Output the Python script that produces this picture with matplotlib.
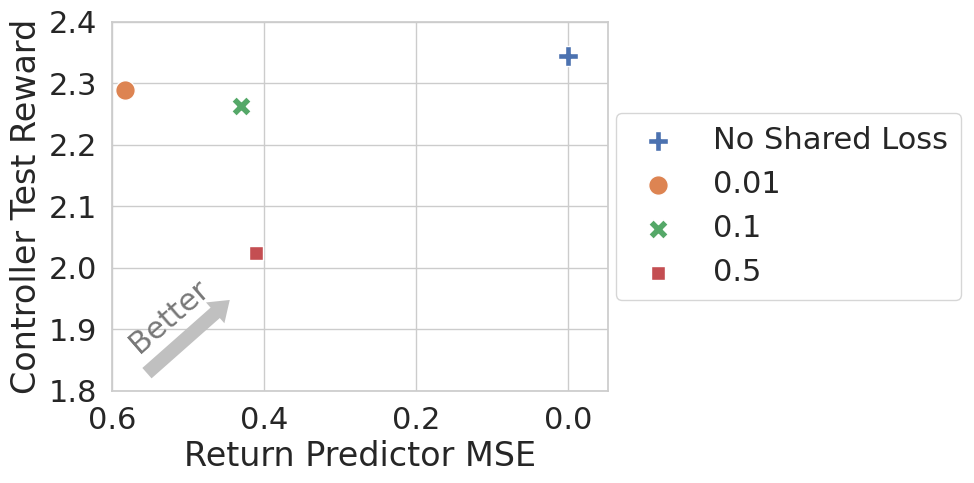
import matplotlib
matplotlib.use("Agg")
import matplotlib.pyplot as plt
import seaborn as sns

sns.set_theme(style="whitegrid", font_scale=2)
plt.rcParams['font.family'] = ['DejaVu Sans']

labels = ["No Shared Loss", "0.01", "0.1", "0.5"]
mse = [0.0, 0.583, 0.430, 0.411]
reward = [2.345, 2.289, 2.263, 2.025]
colors = ["#4C72B0", "#DD8452", "#55A868", "#C44E52"]
markers = ["P", "o", "X", (4, 0, 45)]

xticks = [0.6, 0.4, 0.2, 0.0]
yticks = [1.8, 1.9, 2.0, 2.1, 2.2, 2.3, 2.4]

fig = plt.figure(figsize=(9.74, 4.83), dpi=100)
ax = fig.add_axes([0.115, 0.1905, 0.509, 0.764])

for lab, x, y, c, m in zip(labels, mse, reward, colors, markers):
    ax.scatter([x], [y], s=200, c=c, marker=m, edgecolor="white", linewidth=1, label=lab, zorder=3)

ax.set_xlim(0.6, -0.0526)
ax.set_ylim(1.8, 2.4)
ax.set_xticks(xticks)
ax.set_xticklabels([f"{t:.1f}" for t in xticks])
ax.set_yticks(yticks)
ax.set_yticklabels([f"{t:.1f}" for t in yticks])
ax.tick_params(axis="both", labelsize=22, length=0, pad=10.5)
ax.set_xlabel("Return Predictor MSE", fontsize=24)
ax.set_ylabel("Controller Test Reward", fontsize=24)

ax.annotate("", xy=(0.445, 1.948), xytext=(0.554, 1.829),
            arrowprops=dict(facecolor="#c0c0c0", edgecolor="none", width=10,
                            headwidth=20, headlength=14, shrink=0))
ax.text(0.525, 1.922, "Better", rotation=41, color="#777777", fontsize=22,
        ha="center", va="center", rotation_mode="anchor")

leg = ax.legend(loc="center left", bbox_to_anchor=(0.985, 0.5), fontsize=22,
                scatterpoints=1)

fig.savefig("out.png", dpi=100)
